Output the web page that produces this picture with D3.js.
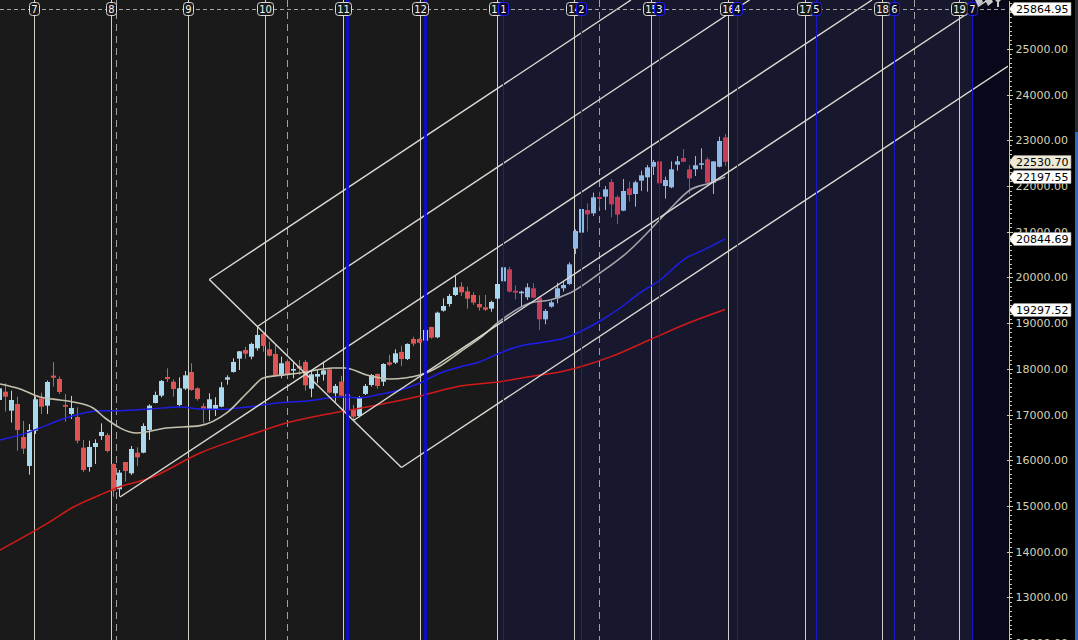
<!DOCTYPE html>
<html>
<head>
<meta charset="utf-8">
<script src="https://cdn.jsdelivr.net/npm/d3@7"></script>
<style>
  body { margin: 0; background: #000; overflow: hidden; }
  svg { display: block; }
</style>
</head>
<body>
<svg id="chart" width="1078" height="640"></svg>
<script>
// weekly bars, first bar index is -1 (partly cut at the left edge)
var firstBar = -1;
var barOpen = [17318,
  17500,17085,17230,16508,15874,16647,17354,17194,17851,17778,
  17209,17012,16946,16275,15852,16290,16530,16552,15917,15363,
  15961,15713,16165,16165,16662,17252,17413,17821,17719,17209,
  17566,17931,17573,17180,17121,17114,17172,17763,17931,18223,
  18412,18266,18449,18763,18427,18325,17843,18164,17960,18062,
  18150,17566,17829,17873,17989,17464,17719,17450,17099,16968,
  17450,17646,17887,17719,18142,18135,18369,18215,18653,18653,
  18617,18916,18690,19273,19419,19616,19798,19696,19616,19419,
  19346,19317,19536,19915,20178,19711,19653,19565,19762,19558,
  19083,19361,19543,19762,19857,20630,20980,21476,21403,21761,
  21768,22089,21761,21462,21950,21826,22118,22191,22424,22541,
  22001,21972,22468,22614,22366,22366,22468,22585,22074,22424,
  23066];
var barHigh = [17620,
  17683,17522,17391,16859,16793,17391,17479,17741,18150,17829,
  17449,17406,17158,16443,16428,16457,16807,16596,15932,15786,
  15961,16311,16282,16807,17223,17500,17756,18011,17770,17814,
  17953,18121,17595,17245,17464,17377,17712,17858,18230,18390,
  18485,18573,18923,18806,18595,18522,18266,18208,18135,18194,
  18194,17960,17975,18157,18011,17668,17843,17464,17209,17406,
  17668,17887,17902,18121,18303,18427,18500,18558,18704,18668,
  18860,18923,19251,19543,19638,20032,19893,19798,19674,19609,
  19616,19492,19886,20236,20236,19828,19711,19871,19871,19594,
  19310,19492,19886,19900,20331,21053,21510,21622,21856,21877,
  22001,22155,21797,22155,22096,22118,22337,22461,22570,22550,
  22206,22541,22658,22811,22461,22658,22826,22629,22541,23081,
  23139];
var barLow = [17280,
  17063,16822,16209,16136,15684,16574,17012,17012,17610,17449,
  16844,16902,16370,15742,15750,15917,16443,16173,15203,15203,
  15531,15677,15874,16151,16443,17245,17376,17712,17391,17172,
  17537,17522,17304,16808,16859,16968,17158,17654,17916,17975,
  18223,18208,18398,18376,18266,17829,17792,17829,17792,17865,
  17522,17377,17683,17741,17464,17282,17391,17063,16881,16939,
  17428,17610,17566,17625,18062,18106,18062,18193,18500,18558,
  18610,18660,18668,19251,19361,19594,19594,19317,19397,19273,
  19266,19251,19521,19900,19674,19521,19361,19507,19543,18850,
  18974,19339,19434,19689,19835,20513,20783,21002,21345,21535,
  21476,21316,21170,21450,21659,21549,21892,21877,22242,21914,
  21724,21950,22337,22519,21826,22220,22366,22001,21826,22410,
  22439];
var barClose = [17573,
  17391,17318,16662,16253,16662,17333,17172,17712,17807,17493,
  17172,17143,16428,15786,16290,16377,16618,16202,15334,15728,
  15764,16246,16063,16749,17194,17427,17734,17778,17559,17573,
  17858,17537,17340,17114,17333,17209,17595,17814,18150,18383,
  18332,18544,18741,18500,18288,17843,18121,17887,17997,18004,
  17639,17880,17887,17967,17479,17625,17413,17099,16953,17377,
  17625,17865,17625,18106,18091,18339,18215,18544,18551,18573,
  18850,18682,19229,19375,19594,19784,19674,19536,19448,19346,
  19295,19463,19857,20222,19689,19667,19689,19784,19558,19083,
  19266,19455,19762,19835,20287,21017,21498,21381,21753,21717,
  21928,21600,21374,21892,21804,22082,22235,22410,22527,22060,
  22133,22366,22541,22534,22169,22454,22498,22074,22541,22986,
  22530.70];

// moving averages: [bar index, price]
var maFast = [[-0.83,17668],[2.5,17559],[5.83,17384],[9.17,17318],[11.33,17274],[14.67,17143],
  [16.67,16924],[21.95,16596],[26.95,16705],[32.5,16756],[36.95,17034],[40.83,17537],
  [43.05,17800],[45.28,17850],[49.17,17909],[54.67,18018],[56.67,18018],[60.28,17865],
  [64.17,17778],[69.17,17865],[72.5,18062],[75.83,18368],[79.17,18675],[82.5,19047],
  [87.5,19441],[90.83,19506],[94.17,19660],[99.17,20097],[103.6,20535],[107.5,21038],
  [110.83,21498],[114.17,21914],[117.5,22067],[120,22197.55]];
var maMid = [[-0.83,16443],[2.5,16552],[5.83,16705],[9.17,16880],[12.5,17012],[15.83,17084],
  [19.17,17084],[24.17,17121],[29.17,17165],[32.5,17121],[35.83,17114],[40.83,17172],
  [45.83,17259],[50.83,17303],[55.83,17390],[59.17,17368],[62.5,17443],[65.83,17537],
  [69.17,17690],[72.5,17909],[75.83,18040],[79.17,18156],[82.5,18347],[85.83,18500],
  [89.17,18572],[93.3,18675],[99.17,19047],[102.5,19331],[105.83,19660],[109.17,19944],
  [113.8,20448],[115.83,20564],[120,20844.69]];
var maSlow = [[-0.83,14035],[8,14692],[10.83,14932],[15.83,15239],[19.17,15420],[24.17,15610],
  [32.5,16158],[40.83,16552],[46.3,16793],[54.7,17034],[60.3,17165],[69.2,17406],
  [75.83,17624],[82.5,17719],[89.17,17865],[91.5,17909],[95.95,18047],[101,18266],
  [107.4,18631],[113.8,18996],[120,19297.52]];

// drawn channel: [start index, start price, end index, end price]
var channelLines = [
  [34.05,19955,104.33,26072],
  [42.06,18926,124.08,26072],
  [19.17,15195,144.5,26072],
  [58.07,16869,163.8,26072],
  [66.08,15840,167.2,24628]];
var channelCap = [34.05,19955,66.08,15840];

// time markers (bar index)
var quarterLines = [4.88,17.73,30.57,43.41,56.25,69.09,81.93,94.78,107.62,120.46,133.3,146.14,158.98];
var quarterLabels = ["7","8","9","10","11","12","13","14","15","16","17","18","19"];
var dashedLines = [18.5,47.08,99.08,151.45];
var cycleLines = [57.0,70.02,83.03,96.05,109.07,122.08,135.1,148.12,161.13];
var cycleLabels = ["","","1","2","3","4","5","6","7"];

var topLevel = 25864.95;
var priceTags = [25864.95,22530.70,22197.55,20844.69,19297.52];
var tagFills = ["#ffffff","#eeead6","#ffffff","#ffffff","#ffffff"];

var W = 1078, H = 640, plotRight = 1008;
var svg = d3.select("#chart");

var x = d3.scaleLinear().domain([-1, 120]).range([-1, 725]);
var y = d3.scaleLinear().domain([12065, 26072]).range([H, 0]);

// backgrounds
svg.append("rect").attr("x",0).attr("y",0).attr("width",plotRight).attr("height",H).attr("fill","#1a1a1a");
svg.append("rect").attr("x",x(quarterLines[6])).attr("y",0)
  .attr("width",x(cycleLines[8]) - x(quarterLines[6])).attr("height",H).attr("fill","#17172e");
svg.append("rect").attr("x",x(cycleLines[8])).attr("y",0)
  .attr("width",plotRight - x(cycleLines[8])).attr("height",H).attr("fill","#08081a");
svg.append("rect").attr("x",plotRight).attr("y",0).attr("width",W-plotRight).attr("height",H).attr("fill","#000");

var defs = svg.append("defs");
defs.append("clipPath").attr("id","plot")
  .append("rect").attr("x",0).attr("y",0).attr("width",plotRight).attr("height",H);
// fast average looks greyer once it enters the shaded zone
var grad = defs.append("linearGradient").attr("id","fastGrad")
  .attr("gradientUnits","userSpaceOnUse").attr("x1",0).attr("x2",plotRight).attr("y1",0).attr("y2",0);
var split = x(quarterLines[6]) / plotRight;
grad.append("stop").attr("offset",split).attr("stop-color","#c4c0ae");
grad.append("stop").attr("offset",split).attr("stop-color","#a4a4aa");

var g = svg.append("g").attr("clip-path","url(#plot)");

var px = function(v){ return Math.round(x(v)) + 0.5; };

// solid quarter lines
g.selectAll(".qline").data(quarterLines).enter().append("line")
  .attr("x1",px).attr("x2",px).attr("y1",0).attr("y2",H)
  .attr("stroke","#cfcfc6").attr("stroke-width",1).attr("shape-rendering","crispEdges");

// dashed lines
g.selectAll(".dline").data(dashedLines).enter().append("line")
  .attr("x1",px).attr("x2",px).attr("y1",0).attr("y2",H)
  .attr("stroke","#a0a0a0").attr("stroke-dasharray","7,5").attr("shape-rendering","crispEdges");

// candles
var bars = barOpen.map(function(o,i){
  return {i: firstBar + i, o: o, h: barHigh[i], l: barLow[i], c: barClose[i]};
});
var colorOf = function(d){
  var up = d.c >= d.o, late = d.i > 82.5;
  if (up) return late ? "#8fbbe6" : "#a9d9ee";
  return late ? "#c63d5a" : "#e05454";
};
var cg = g.append("g");
cg.selectAll(".wick").data(bars).enter().append("line")
  .attr("x1",function(d){ return px(d.i); }).attr("x2",function(d){ return px(d.i); })
  .attr("y1",function(d){ return y(d.h); }).attr("y2",function(d){ return y(d.l); })
  .attr("stroke",colorOf).attr("stroke-width",1);
cg.selectAll(".body").data(bars).enter().append("rect")
  .attr("x",function(d){ return Math.round(x(d.i)) - 2; })
  .attr("width",5)
  .attr("y",function(d){ return y(Math.max(d.o,d.c)); })
  .attr("height",function(d){ return Math.max(1.5, Math.abs(y(d.o) - y(d.c))); })
  .attr("fill",colorOf);

// moving averages
var maLine = d3.line().x(function(d){ return x(d[0]); }).y(function(d){ return y(d[1]); })
  .curve(d3.curveMonotoneX);
g.append("path").attr("d",maLine(maSlow)).attr("fill","none")
  .attr("stroke","#d21a1a").attr("stroke-width",1.5);
g.append("path").attr("d",maLine(maMid)).attr("fill","none")
  .attr("stroke","#1e1ee8").attr("stroke-width",1.5);
g.append("path").attr("d",maLine(maFast)).attr("fill","none")
  .attr("stroke","url(#fastGrad)").attr("stroke-width",1.6);

// channel
g.selectAll(".chan").data(channelLines).enter().append("line")
  .attr("x1",function(d){ return x(d[0]); }).attr("y1",function(d){ return y(d[1]); })
  .attr("x2",function(d){ return x(d[2]); }).attr("y2",function(d){ return y(d[3]); })
  .attr("stroke","#dcdcd4").attr("stroke-width",1.4);
g.append("line")
  .attr("x1",x(channelCap[0])).attr("y1",y(channelCap[1]))
  .attr("x2",x(channelCap[2])).attr("y2",y(channelCap[3]))
  .attr("stroke","#dcdcd4").attr("stroke-width",1.4);

// cycle lines (blue) over the bars
g.selectAll(".cline").data(cycleLines).enter().append("line")
  .attr("x1",px).attr("x2",px).attr("y1",0).attr("y2",H)
  .attr("stroke",function(d,i){ return i < 2 ? "#0c0cd6" : "#1818c8"; })
  .attr("stroke-width",function(d,i){ return i < 2 ? 3 : 1; })
  .attr("opacity",function(d,i){ return i < 2 ? 0.9 : 1; })
  .attr("shape-rendering","crispEdges");

// top level dashed line
g.append("line").attr("x1",0).attr("x2",plotRight)
  .attr("y1",Math.round(y(topLevel)) + 0.5).attr("y2",Math.round(y(topLevel)) + 0.5)
  .attr("stroke","#a8a8a8").attr("stroke-dasharray","4,3").attr("shape-rendering","crispEdges");

// top labels
function tag(parent, cx, label, stroke, fill){
  var w = label.length > 1 ? 16 : 10;
  var tg = parent.append("g");
  tg.append("rect").attr("x",Math.round(cx - w/2) + 0.5).attr("y",2.5).attr("width",w).attr("height",13)
    .attr("rx",3).attr("fill",fill).attr("stroke",stroke).attr("stroke-width",1);
  tg.append("text").attr("x",cx + 0.5).attr("y",9.5).attr("text-anchor","middle")
    .attr("dominant-baseline","central").attr("fill","#f4f4f4")
    .attr("font-family","DejaVu Sans, sans-serif").attr("font-size",10).text(label);
}
quarterLines.forEach(function(q,i){ tag(g, px(q) - 0.5, quarterLabels[i], "#d8d8d8", "#1a1a1a"); });
cycleLines.forEach(function(q,i){ if (cycleLabels[i]) tag(g, px(q) - 0.5, cycleLabels[i], "#2020ff", "#0a0a28"); });

// small toolbar glyphs in the top right corner
var icons = g.append("g").attr("fill","#c8c8c8");
[979, 989, 998].forEach(function(cx, i){
  var p = i < 2 ? "M-4,0 L3,0 L4,2 L-1,6 Z" : "M-3,0 L3,0 L1,2 L1,7 L-1,7 L-1,2 Z";
  icons.append("path").attr("transform","translate(" + cx + ",0)").attr("d",p);
});

// price axis
var axisG = svg.append("g").attr("transform","translate(" + (plotRight + 0.5) + ",0)");
axisG.call(d3.axisRight(y).tickValues(d3.range(12100, 26001, 100)).tickSize(3).tickSizeOuter(0).tickFormat(""));
var major = svg.append("g").attr("transform","translate(" + (plotRight + 0.5) + ",0)");
major.call(d3.axisRight(y).tickValues(d3.range(12000, 26000, 1000)).tickSize(4).tickSizeOuter(0)
  .tickPadding(3).tickFormat(d3.format(".2f")));
major.select(".domain").remove();
major.selectAll(".tick line").attr("x1",-2);
svg.selectAll(".domain, .tick line").attr("stroke","#cdc9aa").attr("shape-rendering","crispEdges");
major.selectAll("text").attr("fill","#d6d2b2").attr("font-family","DejaVu Sans, sans-serif").attr("font-size",11);

// price tags
var tags = svg.selectAll(".ptag").data(priceTags).enter().append("g")
  .attr("transform",function(d){ return "translate(" + (plotRight + 1) + "," + Math.round(y(d)) + ")"; });
tags.append("path").attr("d","M0,0 L5,-6.5 L62,-6.5 L62,6.5 L5,6.5 Z")
  .attr("fill",function(d,i){ return tagFills[i]; }).attr("stroke","#999").attr("stroke-width",0.6);
tags.append("text").attr("x",7).attr("y",0.5).attr("dominant-baseline","central")
  .attr("fill","#000").attr("font-family","DejaVu Sans, sans-serif").attr("font-size",11)
  .text(function(d){ return d3.format(".2f")(d); });

// right edge strip
svg.append("rect").attr("x",1075).attr("y",0).attr("width",3).attr("height",132).attr("fill","#2b2b33");
svg.append("rect").attr("x",1075).attr("y",132).attr("width",3).attr("height",H-132).attr("fill","#2f6cc0");
</script>
</body>
</html>
